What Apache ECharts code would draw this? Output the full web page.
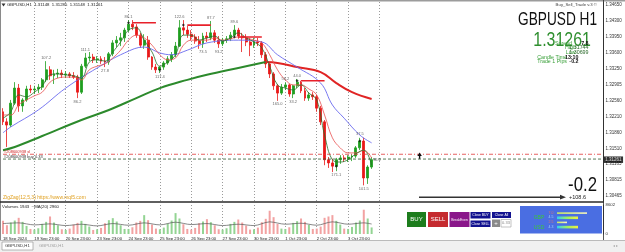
<!DOCTYPE html>
<html><head><meta charset="utf-8">
<script src="https://cdn.jsdelivr.net/npm/echarts@6/dist/echarts.min.js"></script>
<style>html,body{margin:0;padding:0;background:#fff}#c{width:625px;height:252px}</style>
</head><body><div id="c"></div><script>
// ---- data (3-hour slots) ----
const timeLabels = ['18 Sep 2024','19 Sep 23:00','20 Sep 23:00','23 Sep 23:00','24 Sep 23:00','25 Sep 23:00','26 Sep 23:00','27 Sep 23:00','30 Sep 23:00','1 Oct 23:00','2 Oct 23:00','3 Oct 23:00'];
const priceTicks = [1.34650,1.34300,1.33950,1.33600,1.33250,1.32905,1.32560,1.32210,1.31860,1.31510,1.31165,1.30815,1.30465];
const volTicks = [0, 8602];
const opens = [1.3231,1.3209,1.3202,1.3250,1.3283,1.3244,1.3257,1.3281,1.3279,1.3281,
 1.3285,1.3301,1.3323,1.3310,1.3314,1.3316,1.3312,1.3314,1.3310,1.3307,
 1.3274,1.3331,1.3349,1.3351,1.3345,1.3347,1.3342,1.3340,1.3358,1.3382,
 1.3388,1.3393,1.3410,1.3423,1.3417,1.3399,1.3377,1.3388,1.3351,1.3329,
 1.3323,1.3329,1.3338,1.3347,1.3356,1.3375,1.3415,1.3410,1.3401,1.3395,
 1.3386,1.3380,1.3397,1.3393,1.3404,1.3388,1.3380,1.3388,1.3391,1.3399,
 1.3410,1.3397,1.3393,1.3384,1.3377,1.3384,1.3382,1.3356,1.3336,1.3314,
 1.3288,1.3272,1.3285,1.3290,1.3270,1.3288,1.3296,1.3277,1.3261,1.3268,
 1.3264,1.3239,1.3209,1.3126,1.3119,1.3112,1.3126,1.3130,1.3128,1.3132,
 1.3134,1.3152,1.3167,1.3086,1.3110];
const closes = [1.3209,1.3202,1.3250,1.3283,1.3244,1.3257,1.3281,1.3279,1.3281,1.3285,
 1.3301,1.3323,1.3310,1.3314,1.3316,1.3312,1.3314,1.3310,1.3307,1.3274,
 1.3331,1.3349,1.3351,1.3345,1.3347,1.3342,1.3340,1.3358,1.3382,1.3388,
 1.3393,1.3410,1.3423,1.3417,1.3399,1.3377,1.3388,1.3351,1.3329,1.3323,
 1.3329,1.3338,1.3347,1.3356,1.3375,1.3415,1.3410,1.3401,1.3395,1.3386,
 1.3380,1.3397,1.3393,1.3404,1.3388,1.3380,1.3388,1.3391,1.3399,1.3410,
 1.3397,1.3393,1.3384,1.3377,1.3384,1.3382,1.3356,1.3336,1.3314,1.3288,
 1.3272,1.3285,1.3290,1.3270,1.3288,1.3296,1.3277,1.3261,1.3268,1.3264,
 1.3239,1.3209,1.3126,1.3119,1.3112,1.3126,1.3130,1.3128,1.3132,1.3134,
 1.3152,1.3167,1.3086,1.3110,1.31261];
const highs = [1.3239,1.3217,1.3257,1.3296,1.3292,1.3261,1.3288,1.3290,1.3288,1.3292,
 1.3305,1.3342,1.3331,1.3323,1.3325,1.3323,1.3320,1.3318,1.3318,1.3312,
 1.3336,1.3360,1.3362,1.3358,1.3353,1.3353,1.3351,1.3362,1.3388,1.3397,
 1.3404,1.3415,1.3432,1.3432,1.3423,1.3404,1.3401,1.3397,1.3353,1.3336,
 1.3331,1.3342,1.3353,1.3362,1.3384,1.3432,1.3432,1.3419,1.3410,1.3401,
 1.3397,1.3404,1.3406,1.3430,1.3410,1.3397,1.3393,1.3397,1.3406,1.3421,
 1.3415,1.3404,1.3401,1.3393,1.3393,1.3393,1.3386,1.3362,1.3340,1.3318,
 1.3292,1.3292,1.3296,1.3292,1.3290,1.3303,1.3299,1.3283,1.3274,1.3274,
 1.3268,1.3244,1.3213,1.3132,1.3128,1.3130,1.3136,1.3136,1.3136,1.3138,
 1.3156,1.3174,1.31744,1.3114,1.3132];
const lows = [1.3202,1.3154,1.3198,1.3246,1.3231,1.3231,1.3253,1.3272,1.3270,1.3272,
 1.3279,1.3296,1.3301,1.3292,1.3305,1.3305,1.3305,1.3305,1.3303,1.3261,
 1.3270,1.3327,1.3342,1.3338,1.3338,1.3336,1.3329,1.3334,1.3353,1.3373,
 1.3375,1.3384,1.3406,1.3410,1.3393,1.3371,1.3369,1.3345,1.3323,1.3316,
 1.3316,1.3323,1.3334,1.3340,1.3351,1.3373,1.3399,1.3393,1.3388,1.3380,
 1.3369,1.3371,1.3384,1.3388,1.3382,1.3371,1.3375,1.3382,1.3386,1.3395,
 1.3391,1.3362,1.3375,1.3353,1.3371,1.3375,1.3349,1.3327,1.3305,1.3279,
 1.3255,1.3268,1.3279,1.3264,1.3261,1.3283,1.3272,1.3255,1.3255,1.3257,
 1.3231,1.3202,1.3114,1.3108,1.3099,1.3101,1.3117,1.3121,1.3121,1.3123,
 1.3130,1.3147,1.30699,1.3073,1.3106];
const volumes = [3900,2600,3400,4000,4800,3600,2400,1500,
 1300,1700,3000,3600,5200,3400,2600,1400,
 1200,1600,2800,3300,3900,3000,2200,1200,
 1400,1800,3200,4100,4700,3700,2600,1500,
 1500,2000,3400,3900,5600,4100,2800,1600,
 1400,1900,3100,4000,6200,4600,2900,1500,
 1300,1800,3200,3700,4400,3500,2600,1400,
 1300,1700,3000,3600,4300,3400,2500,1300,
 1400,1900,3500,4500,6900,5000,3000,1600,
 1500,2000,3300,3800,4600,3600,2700,1500,
 1600,2200,4800,5200,5600,3900,2800,1600,
 1500,2100,3400,4000,7200,4600,1943];
const volMA = [[0,3100],[4,3300],[8,2700],[12,3000],[16,2500],[20,2900],[24,2400],[28,3100],[32,2600],[36,3300],[40,2700],[44,3500],[48,2800],[52,3100],[56,2500],[60,2900],[64,2500],[68,3600],[72,2900],[76,3200],[80,2600],[84,3600],[88,2900],[92,3300],[94,2960]];
const maLongUp = [[0,1.3147],[3,1.3154],[10,1.3178],[20,1.3213],[27,1.3235],[34,1.3261],[40,1.3283],[47,1.3301],[52,1.3312],[60,1.3327],[67,1.3340]];
const maLongDown = [[67,1.3340],[70,1.3338],[75,1.3329],[81,1.3318],[85,1.3294],[89,1.3274],[94,1.3259]];
const maBlue = [[0,1.3185],[2,1.3198],[9,1.3235],[16,1.3283],[24,1.3327],[31,1.3360],[36,1.3373],[40,1.3360],[43,1.3356],[47,1.3366],[52,1.3382],[60,1.3388],[66,1.3384],[70,1.3356],[75,1.3329],[81,1.3294],[84,1.3246],[87,1.3217],[91,1.3180],[94,1.3163]];
const maRed = [[0,1.3224],[2,1.3224],[4,1.3246],[6,1.3257],[8,1.3266],[10,1.3274],[12,1.3296],[14,1.3305],[16,1.3307],[18,1.3307],[20,1.3301],[22,1.3323],[24,1.3331],[26,1.3336],[28,1.3349],[30,1.3366],[32,1.3388],[34,1.3399],[36,1.3393],[38,1.3377],[40,1.3356],[42,1.3345],[44,1.3349],[46,1.3377],[48,1.3388],[50,1.3388],[52,1.3388],[54,1.3393],[56,1.3388],[58,1.3391],[60,1.3395],[62,1.3393],[64,1.3388],[66,1.3382],[68,1.3356],[70,1.3323],[72,1.3301],[74,1.3290],[76,1.3290],[78,1.3281],[80,1.3268],[82,1.3224],[84,1.3174],[86,1.3152],[88,1.3141],[90,1.3141],[92,1.3147],[94,1.3130]];
const maGreen = [[0,1.3217],[2,1.3231],[4,1.3268],[6,1.3264],[8,1.3274],[10,1.3288],[12,1.3312],[14,1.3314],[16,1.3312],[18,1.3310],[20,1.3305],[22,1.3340],[24,1.3345],[26,1.3342],[28,1.3362],[30,1.3384],[32,1.3410],[34,1.3415],[36,1.3388],[38,1.3362],[40,1.3331],[42,1.3340],[44,1.3356],[46,1.3399],[48,1.3399],[50,1.3388],[52,1.3393],[54,1.3397],[56,1.3386],[58,1.3393],[60,1.3404],[62,1.3393],[64,1.3384],[66,1.3371],[68,1.3331],[70,1.3290],[72,1.3283],[74,1.3279],[76,1.3290],[78,1.3272],[80,1.3257],[82,1.3180],[84,1.3126],[86,1.3121],[88,1.3126],[90,1.3139],[92,1.3147],[94,1.3114]];
const levels = [[33,39,1.3426],[47,53,1.3421],[60,66,1.3395],[76,82,1.3299]];
const zzLabels = [[11,1.3342,'107.2','top'],[19,1.3261,'86.2','bottom'],[21,1.3360,'111.1','top'],[26,1.3329,'27.8','bottom'],[32,1.3432,'86.1','top'],[40,1.3316,'117.4','bottom'],[45,1.3432,'122.6','top'],[51,1.3371,'73.5','bottom'],[53,1.3430,'87.7','top'],[55,1.3371,'93.2','bottom'],[59,1.3421,'89.6','top'],[70,1.3255,'165.0','bottom'],[72,1.3296,'56.2','top'],[74,1.3261,'33.2','bottom'],[75,1.3303,'44.0','top'],[85,1.3101,'171.1','bottom'],[91,1.3174,'37.5','top'],[92,1.30699,'101.5','bottom'],[94,1.3126,'36.2','right']];
const markers = [[32,1.3426],[40,1.3323],[46,1.3421],[59,1.3395],[75,1.3299],[85,1.3112],[91,1.3167]];
const orderSL = 1.3138, orderBuy = 1.31275, bidPrice = 1.31261;

// ---- chart ----
const nSlots = 154, lastSlot = nSlots - 1;
const slots = Array.from({length:nSlots},(_,i)=>String(i));
const dayEvery = 8, lastGrid = 96;
const FF = 'Liberation Sans';
const chart = echarts.init(document.getElementById('c'), null, {renderer:'canvas'});
const candleData = opens.map((o,i)=>[o, closes[i], lows[i], highs[i]]);
const volData = volumes.map((v,i)=>({value:v, itemStyle:{color: closes[i]>=opens[i] ? '#93d493' : '#f2a2a2'}}));
const gridLine = {show:true, interval:(i)=> i>0 && i%dayEvery===0 && i<=lastGrid, lineStyle:{color:'#9a9a9a', type:[1,2], width:1}};
const levelSeries = levels.map(l=>({type:'line', xAxisIndex:0, yAxisIndex:0, data:[[l[0],l[2]],[l[1],l[2]]], symbol:'none', lineStyle:{color:'#e8202a', width:1.6}, silent:true, z:4}));
const orderLine = (price, color, type, text, tcolor) => ({type:'line', xAxisIndex:0, yAxisIndex:0, silent:true, z:8,
  symbol:'circle', symbolSize:0, lineStyle:{color, type, width:0.8},
  data:[{value:[0,price], label:{show:true, position:[1,-4.6], formatter:text, color:tcolor, fontSize:4, align:'left', verticalAlign:'top', fontFamily:FF}}, [lastSlot, price]]});

const txt = (x,y,text,opt={}) => ({type:'text', x, y, scaleX: opt.sx||1, z:50, style:Object.assign({text, x:0, y:0, fill:opt.c||'#222', fontSize:opt.fs||5, fontFamily:FF, textAlign:opt.a||'left', textVerticalAlign:opt.va||'middle', fontWeight:opt.fw||'normal'})});
const rect = (x,y,w,h,fill,stroke) => ({type:'rect', z:40, shape:{x,y,width:w,height:h}, style:{fill, stroke: stroke||null, lineWidth: stroke?0.6:0}});

const graphics = [
  rect(0,0,625,1.5,'#9c9c9c'),
  rect(0,0,1,241,'#8a8a8a'),
  rect(0,201.3,604,1.4,'#2a2a2a'),
  rect(603,0,0.8,241,'#2a2a2a'),
  rect(0,240,625,12,'#f0f0f0'),
  rect(0,240,625,0.8,'#a8a8a8'),
  rect(2,242,31,8,'#ffffff','#8a8a8a'),
  txt(5,246.2,'GBPUSD,H1',{fs:4.3,c:'#333'}),
  txt(39,246.2,'GBPUSD,H1',{fs:4.3,c:'#a0a0a0'}),
  txt(613,246.2,'◂ ▸',{fs:4,c:'#aaa'}),
  {type:'polygon', z:50, shape:{points:[[1.5,3.5],[5.5,3.5],[3.5,6.5]]}, style:{fill:'#333'}},
  txt(7,5.2,'GBPUSD,H1  1.31148  1.31285  1.31148  1.31261',{fs:4.3,c:'#222'}),
  txt(597,5.2,'Buy_Sell_Trade v.3 ©',{fs:4.3,c:'#444',a:'right'}),
  txt(597,20.5,'GBPUSD H1',{fs:17.5,c:'#111',a:'right',sx:0.78}),
  txt(591,40.5,'1.31261',{fs:21,c:'#2f8f2f',a:'right',sx:0.76}),
  txt(572,43.5,'Spread',{fs:5.3,c:'#3aa03a',a:'right'}),
  txt(588.5,43.5,'7.8',{fs:5.3,c:'#111',a:'right',fw:'bold'}),
  txt(576,48,'High',{fs:5.3,c:'#3aa03a',a:'right'}),
  txt(588.5,48,'1.31744',{fs:5.3,c:'#2a6a2a',a:'right'}),
  txt(575.5,52.5,'Low',{fs:5.3,c:'#3aa03a',a:'right'}),
  txt(588.5,52.5,'1.30699',{fs:5.3,c:'#2a6a2a',a:'right'}),
  txt(567,57.2,'Candle Time',{fs:5.3,c:'#3aa03a',a:'right'}),
  txt(578.5,57.2,'13:10',{fs:5.3,c:'#111',a:'right',fw:'bold'}),
  txt(567,62,'Trade 1 Pips',{fs:5.3,c:'#3aa03a',a:'right'}),
  txt(578.5,62,'-0.2',{fs:5.3,c:'#111',a:'right',fw:'bold'}),
  txt(3,197.5,'ZigZag(12,5,3) https://www.mql5.com',{fs:5,c:'#e0a020'}),
  txt(2,206.5,'Volumes 1943  ~MA(20) 2960',{fs:4.3,c:'#222'}),
  txt(597,185.5,'-0.2',{fs:21,c:'#111',a:'right',sx:0.8}),
  txt(569,197.5,'+108.6',{fs:5.5,c:'#222'}),
  {type:'line', z:45, shape:{x1:419,y1:197.2,x2:562,y2:197.2}, style:{stroke:'#333', lineWidth:1.6}},
  {type:'polygon', z:45, shape:{points:[[560,194.8],[566,197.2],[560,199.6]]}, style:{fill:'#333'}},
  {type:'polygon', z:45, shape:{points:[[417.3,156],[419.6,152.6],[421.9,156]]}, style:{fill:'#111'}},
  rect(418.9,155.8,1.4,3,'#111'),
  // trade panel
  rect(407,212,19,15,'#1d7d1d'),
  txt(416.5,219.7,'BUY',{fs:6,c:'#fff',a:'center'}),
  rect(428,212,20,15,'#c52a2f'),
  txt(438,219.7,'SELL',{fs:6,c:'#fff',a:'center'}),
  rect(449.5,212,20,15,'#8a178a'),
  txt(459.5,219.7,'BreakEven',{fs:3.4,c:'#fff',a:'center'}),
  rect(470.5,212,20,6.5,'#121290'),
  txt(480.5,215.3,'Close BUY',{fs:3.4,c:'#fff',a:'center'}),
  rect(470.5,220.5,20,6.5,'#121290'),
  txt(480.5,223.8,'Close SELL',{fs:3.4,c:'#fff',a:'center'}),
  rect(492,212,19,6,'#121290'),
  txt(501.5,215,'Close All',{fs:3.4,c:'#fff',a:'center'}),
  rect(492,219.5,8,7.5,'#8a8a8a'),
  txt(496,223.3,'+',{fs:6,c:'#fff',a:'center'}),
  rect(501,219.5,10,7.5,'#ffffff','#9a9a9a'),
  txt(506,223.3,'0.33',{fs:4,c:'#888',a:'center'}),
  rect(520,206,82,27.5,'#4a6ee2'),
  txt(539,217.5,'GBP',{fs:5,c:'#38c838',a:'center'}),
  txt(539,227.5,'USD',{fs:5,c:'#38c838',a:'center'}),
  txt(551,213,'7.0',{fs:3.5,c:'#e07070',a:'center'}),
  txt(551,217.5,'4.5',{fs:3.5,c:'#a0d0ff',a:'center'}),
  txt(551,222.5,'2.5',{fs:3.5,c:'#e07070',a:'center'}),
  txt(551,227,'4.3',{fs:3.5,c:'#a0d0ff',a:'center'}),
  {type:'rect', z:41, shape:{x:557,y:212.3,width:30,height:1.6}, style:{fill:new echarts.graphic.LinearGradient(0,0,1,0,[{offset:0,color:'#c8e860'},{offset:1,color:'#f4f4c0'}])}},
  {type:'rect', z:41, shape:{x:557,y:216.5,width:21,height:2.6}, style:{fill:new echarts.graphic.LinearGradient(0,0,1,0,[{offset:0,color:'#30d0f0'},{offset:0.5,color:'#a0f060'},{offset:1,color:'#f0f040'}])}},
  {type:'rect', z:41, shape:{x:557,y:221.6,width:10,height:1.6}, style:{fill:new echarts.graphic.LinearGradient(0,0,1,0,[{offset:0,color:'#c8e860'},{offset:1,color:'#f4f4c0'}])}},
  {type:'rect', z:41, shape:{x:557,y:225.8,width:21,height:2.6}, style:{fill:new echarts.graphic.LinearGradient(0,0,1,0,[{offset:0,color:'#30d0f0'},{offset:0.5,color:'#a0f060'},{offset:1,color:'#f0f040'}])}}
];

const option = {
  animation:false,
  backgroundColor:'#ffffff',
  textStyle:{fontFamily:FF},
  grid:[{left:3, right:22, top:2, height:199},{left:3, right:22, top:205, height:29}],
  xAxis:[
    {type:'category', gridIndex:0, data:slots, boundaryGap:false, axisLine:{show:false}, axisTick:{show:false}, axisLabel:{show:false}, splitLine:gridLine},
    {type:'category', gridIndex:1, data:slots, boundaryGap:false, axisLine:{show:false}, axisTick:{show:false},
      axisLabel:{show:true, interval:(i)=> i%dayEvery===0 && i/dayEvery < timeLabels.length, formatter:(v,i)=> (i%dayEvery===0 && timeLabels[i/dayEvery]) ? timeLabels[i/dayEvery] : '', fontSize:4.2, color:'#222', align:'left', margin:2.5, fontFamily:FF},
      splitLine:gridLine}
  ],
  yAxis:[
    {type:'value', gridIndex:0, position:'right', min:1.30356, max:1.34716,
      axisLine:{show:true, lineStyle:{color:'#222', width:0.8}}, axisTick:{show:false}, splitLine:{show:false},
      axisLabel:{customValues:priceTicks, formatter:(v)=>v.toFixed(5), fontSize:4.5, color:'#333', margin:2.5, fontFamily:FF}},
    {type:'value', gridIndex:1, position:'right', min:0, max:8602,
      axisLine:{show:true, lineStyle:{color:'#222', width:0.8}}, axisTick:{show:false}, splitLine:{show:false},
      axisLabel:{customValues:volTicks, formatter:(v)=>String(v), fontSize:4.3, color:'#333', margin:2.5, fontFamily:FF}}
  ],
  series:[
    {type:'candlestick', name:'GBPUSD', xAxisIndex:0, yAxisIndex:0, data:candleData, barWidth:2.4,
      itemStyle:{color:'#1e9e1e', color0:'#e81818', borderColor:'#1e9e1e', borderColor0:'#e81818', borderWidth:0.8}},
    orderLine(orderSL, '#e03a3a', [4,2,1,2], '#208600938 sl', '#cc2222'),
    orderLine(orderBuy, '#2f5a2f', [3,2], '#208600938 buy 0.33', '#333'),
    {type:'scatter', xAxisIndex:0, yAxisIndex:0, data:[[lastSlot, bidPrice]], symbolSize:0, silent:true, z:20, clip:false,
      label:{show:true, position:'right', distance:0.8, formatter:bidPrice.toFixed(5), backgroundColor:'#000', color:'#fff', fontSize:4.5, padding:[1,1.5,0.5,1.5], fontFamily:FF}},
    {type:'line', xAxisIndex:0, yAxisIndex:0, data:maLongUp, smooth:0.4, symbol:'none', lineStyle:{color:'#2c8a2c', width:2}, silent:true, z:3},
    {type:'line', xAxisIndex:0, yAxisIndex:0, data:maLongDown, smooth:0.4, symbol:'none', lineStyle:{color:'#e02424', width:2}, silent:true, z:3},
    {type:'line', xAxisIndex:0, yAxisIndex:0, data:maBlue, smooth:0.4, symbol:'none', lineStyle:{color:'#6a6aee', width:0.9}, silent:true, z:3},
    {type:'line', xAxisIndex:0, yAxisIndex:0, data:maRed, smooth:0.4, symbol:'none', lineStyle:{color:'#e85050', width:0.8}, silent:true, z:3},
    {type:'line', xAxisIndex:0, yAxisIndex:0, data:maGreen, smooth:0.4, symbol:'none', lineStyle:{color:'#2a6e2a', width:0.8}, silent:true, z:3},
    ...levelSeries,
    {type:'scatter', xAxisIndex:0, yAxisIndex:0, data:markers, symbol:'diamond', symbolSize:3, itemStyle:{color:'#111'}, silent:true, z:5},
    {type:'scatter', xAxisIndex:0, yAxisIndex:0, data:zzLabels.map(d=>({value:[d[0],d[1]], label:{position:d[3]}, name:d[2]})), symbolSize:0, silent:true, z:6,
      label:{show:true, formatter:(p)=>p.name, fontSize:4, color:'#444', distance:1.5, fontFamily:FF}},
    {type:'bar', xAxisIndex:1, yAxisIndex:1, data:volData, barWidth:2, silent:true},
    {type:'line', xAxisIndex:1, yAxisIndex:1, data:volMA, smooth:0.3, symbol:'none', lineStyle:{color:'#555', width:0.7}, silent:true, z:3}
  ],
  graphic:graphics
};
chart.setOption(option);
</script></body></html>
